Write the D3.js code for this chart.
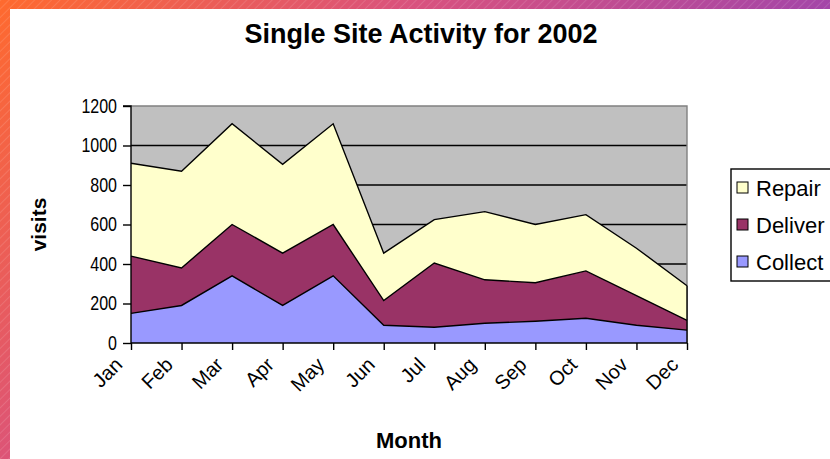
<!DOCTYPE html>
<html lang="en">
<head>
<meta charset="UTF-8">
<title>Single Site Activity for 2002</title>
<script src="https://d3js.org/d3.v7.min.js"></script>
<style>
  body { margin: 0; background: #fff; }
  svg text { font-family: "Liberation Sans", Arial, sans-serif; }
</style>
</head>
<body>
<div id="content"></div>
<script>
const months = ["Jan", "Feb", "Mar", "Apr", "May", "Jun", "Jul", "Aug", "Sep", "Oct", "Nov", "Dec"];
const collect = [150, 190, 340, 190, 340, 90, 80, 100, 110, 125, 90, 65];
const deliver = [290, 190, 260, 265, 260, 125, 325, 220, 195, 240, 150, 50];
const repair = [470, 490, 510, 450, 510, 240, 220, 345, 295, 285, 240, 175];
const yTicks = [0, 200, 400, 600, 800, 1000, 1200];

const series = ["Collect", "Deliver", "Repair"];
const colors = { Collect: "#9999ff", Deliver: "#993366", Repair: "#ffffcc" };

const width = 830, height = 459;
const plot = { left: 131, right: 687, top: 106, bottom: 343 };

const svg = d3.select("#content").append("svg")
    .attr("width", width)
    .attr("height", height);

// decorative frame: gradient strips on top and left
const defs = svg.append("defs");
const grad = defs.append("linearGradient")
    .attr("id", "frame")
    .attr("gradientUnits", "userSpaceOnUse")
    .attr("x1", 0).attr("y1", 0).attr("x2", 500).attr("y2", 407);
grad.append("stop").attr("offset", "0%").attr("stop-color", "#ff6a2e");
grad.append("stop").attr("offset", "50%").attr("stop-color", "#d9527e");
grad.append("stop").attr("offset", "100%").attr("stop-color", "#a446a8");

const pat = defs.append("pattern")
    .attr("id", "stripes")
    .attr("patternUnits", "userSpaceOnUse")
    .attr("width", 6).attr("height", 6)
    .attr("patternTransform", "rotate(45)");
pat.append("line")
    .attr("x1", 0).attr("y1", 0).attr("x2", 0).attr("y2", 6)
    .attr("stroke", "#fff").attr("stroke-opacity", 0.25).attr("stroke-width", 1);

svg.append("rect").attr("width", width).attr("height", height).attr("fill", "url(#frame)");
svg.append("rect").attr("width", width).attr("height", height).attr("fill", "url(#stripes)");
svg.append("rect").attr("x", 10).attr("y", 9).attr("width", width - 10).attr("height", height - 9).attr("fill", "#fff");

const data = months.map((m, i) => ({ month: m, Collect: collect[i], Deliver: deliver[i], Repair: repair[i] }));
const stacked = d3.stack().keys(series)(data);

const x = d3.scalePoint().domain(months).range([plot.left, plot.right]);
const y = d3.scaleLinear().domain([0, 1200]).range([plot.bottom, plot.top]);

// plot background
svg.append("rect")
    .attr("x", plot.left).attr("y", plot.top)
    .attr("width", plot.right - plot.left).attr("height", plot.bottom - plot.top)
    .attr("fill", "#c0c0c0");

// gridlines
svg.append("g")
    .selectAll("line")
    .data(yTicks.filter(d => d > 0 && d < 1200))
    .join("line")
    .attr("x1", plot.left).attr("x2", plot.right)
    .attr("y1", d => y(d)).attr("y2", d => y(d))
    .attr("stroke", "#000").attr("stroke-width", 1.4);

// border top/right
svg.append("path")
    .attr("d", `M${plot.left},${plot.top}H${plot.right}V${plot.bottom}`)
    .attr("fill", "none").attr("stroke", "#808080").attr("stroke-width", 1.4);

const area = d3.area()
    .x(d => x(d.data.month))
    .y0(d => y(d[0]))
    .y1(d => y(d[1]));

const line = d3.line()
    .x(d => x(d.data.month))
    .y(d => y(d[1]));

svg.append("g")
    .selectAll("path")
    .data(stacked)
    .join("path")
    .attr("d", area)
    .attr("fill", d => colors[d.key]);

svg.append("g")
    .selectAll("path")
    .data(stacked)
    .join("path")
    .attr("d", line)
    .attr("fill", "none")
    .attr("stroke", "#000")
    .attr("stroke-width", 1.4);

// right edge of areas
svg.append("line")
    .attr("x1", plot.right).attr("x2", plot.right)
    .attr("y1", y(0)).attr("y2", y(d3.sum(series, k => data[11][k])))
    .attr("stroke", "#000").attr("stroke-width", 1.4);

// y axis (labels drawn narrow and tall, like the original)
const sx = 0.8;
const yAxis = svg.append("g")
    .attr("transform", `translate(${plot.left},0)`)
    .call(d3.axisLeft(y).tickValues(yTicks).tickSize(8).tickFormat(d3.format("d")));
yAxis.selectAll("line, path").attr("stroke", "#000").attr("stroke-width", 1.4);
yAxis.select(".domain").attr("d", `M-8,${plot.top}H0V${plot.bottom}`);
yAxis.selectAll("text")
    .attr("font-size", 20).attr("fill", "#000")
    .style("font-family", "'Liberation Sans', Arial, sans-serif")
    .attr("x", -14 / sx)
    .attr("transform", `scale(${sx},1)`);

// x axis
const xAxis = svg.append("g")
    .attr("transform", `translate(0,${plot.bottom})`)
    .call(d3.axisBottom(x).tickSize(7).tickSizeOuter(0));
xAxis.selectAll("line, path").attr("stroke", "#000").attr("stroke-width", 1.4);
xAxis.select(".domain").attr("d", `M${plot.left},0H${plot.right}`);
xAxis.selectAll("text")
    .attr("font-size", 20).attr("fill", "#000")
    .style("font-family", "'Liberation Sans', Arial, sans-serif")
    .attr("text-anchor", "end")
    .attr("y", 0).attr("dy", 0)
    .attr("transform", "translate(-8,23) rotate(-45)");

// titles
svg.append("text")
    .attr("x", 421).attr("y", 43)
    .attr("text-anchor", "middle")
    .attr("font-size", 27).attr("font-weight", "bold")
    .text("Single Site Activity for 2002");

svg.append("text")
    .attr("x", 409).attr("y", 448)
    .attr("text-anchor", "middle")
    .attr("font-size", 22).attr("font-weight", "bold")
    .text("Month");

svg.append("text")
    .attr("transform", `translate(46,${(plot.top + plot.bottom) / 2}) rotate(-90)`)
    .attr("text-anchor", "middle")
    .attr("font-size", 21).attr("font-weight", "bold")
    .text("visits");

// legend
const legend = svg.append("g").attr("transform", "translate(731,169)");
legend.append("rect")
    .attr("x", 0).attr("y", 0).attr("width", 110).attr("height", 112)
    .attr("fill", "#fff").attr("stroke", "#000").attr("stroke-width", 1.4);
const items = legend.selectAll("g.item")
    .data(series.slice().reverse())
    .join("g")
    .attr("class", "item")
    .attr("transform", (d, i) => `translate(0,${19 + i * 37})`);
items.append("rect")
    .attr("x", 6).attr("y", -6).attr("width", 11).attr("height", 11)
    .attr("fill", d => colors[d]).attr("stroke", "#000").attr("stroke-width", 1);
items.append("text")
    .attr("x", 25).attr("y", 0).attr("dy", "0.36em")
    .attr("font-size", 22)
    .text(d => d);
</script>
</body>
</html>
